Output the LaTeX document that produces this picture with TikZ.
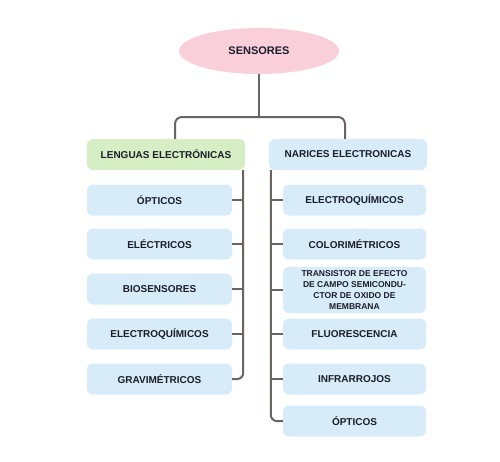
\documentclass[tikz,border=0pt]{standalone}
\usepackage{fontspec}
\setmainfont{Liberation Sans}
\usetikzlibrary{shapes.geometric}

\definecolor{rootpink}{HTML}{F9D0DA}
\definecolor{headgreen}{HTML}{D6EEC4}
\definecolor{boxblue}{HTML}{D7ECF8}
\definecolor{linegray}{HTML}{6A6364}
\definecolor{textnavy}{HTML}{1A1D2A}

\tikzset{
    box/.style={rectangle,rounded corners=6pt,fill=boxblue,text=textnavy,
        font=\bfseries\fontsize{10}{12}\selectfont,minimum height=31pt,
        inner sep=2pt,align=center},
    leftbox/.style={box,minimum width=145pt},
    rightbox/.style={box,minimum width=143pt},
    headbox/.style={box,minimum width=158pt},
    link/.style={draw=linegray,line width=2pt},
}

\begin{document}
\begin{tikzpicture}[x=1pt,y=-1pt]
        \useasboundingbox (0,0) rectangle (500,461);

        % Root
        \node[ellipse,fill=rootpink,text=textnavy,minimum width=160pt,minimum height=46pt,
            inner sep=0pt,font=\bfseries\fontsize{11}{13}\selectfont] (root) at (259,51) {SENSORES};

        % Headers
        \node[headbox,fill=headgreen] (lenguas) at (166,154.5) {LENGUAS ELECTRÓNICAS};
        \node[headbox] (narices) at (348,154.5) {NARICES ELECTRONICAS};

        % Left column
        \node[leftbox] (lopticos) at (159.5,200) {ÓPTICOS};
        \node[leftbox] (lelectricos) at (159.5,244) {ELÉCTRICOS};
        \node[leftbox] (lbio) at (159.5,289) {BIOSENSORES};
        \node[leftbox] (lquimicos) at (159.5,334) {ELECTROQUÍMICOS};
        \node[leftbox] (lgravi) at (159.5,379) {GRAVIMÉTRICOS};

        % Right column
        \node[rightbox] (rquimicos) at (354.5,200) {ELECTROQUÍMICOS};
        \node[rightbox] (rcolori) at (354.5,244) {COLORIMÉTRICOS};
        \node[rightbox,minimum height=46pt,font=\bfseries\fontsize{8.5}{11}\selectfont]
            (rtransistor) at (354.5,290) {TRANSISTOR DE EFECTO\\DE CAMPO SEMICONDU-\\CTOR DE OXIDO DE\\MEMBRANA};
        \node[rightbox] (rfluor) at (354.5,334) {FLUORESCENCIA};
        \node[rightbox] (rinfra) at (354.5,379) {INFRARROJOS};
        \node[rightbox] (ropticos) at (354.5,421) {ÓPTICOS};

        % Top split
        \coordinate (split) at (259,117);
        \draw[link] (root.south) -- (split);
        \draw[link,rounded corners=7pt] ([xshift=9pt]lenguas.north) |- (split) -| ([xshift=-3pt]narices.north);

        % Left trunk
        \coordinate (ltrunk) at ([xshift=-2pt]lenguas.south east);
        \draw[link,rounded corners=6pt] (ltrunk) |- (lgravi.east);
        \foreach \n in {lopticos,lelectricos,lbio,lquimicos}
            \draw[link] (\n.east) -- (\n.east -| ltrunk);

        % Right trunk
        \coordinate (rtrunk) at ([xshift=2pt]narices.south west);
        \draw[link,rounded corners=6pt] (rtrunk) |- (ropticos.west);
        \foreach \n in {rquimicos,rcolori,rtransistor,rfluor,rinfra}
            \draw[link] (\n.west) -- (\n.west -| rtrunk);

    \end{tikzpicture}
\end{document}
